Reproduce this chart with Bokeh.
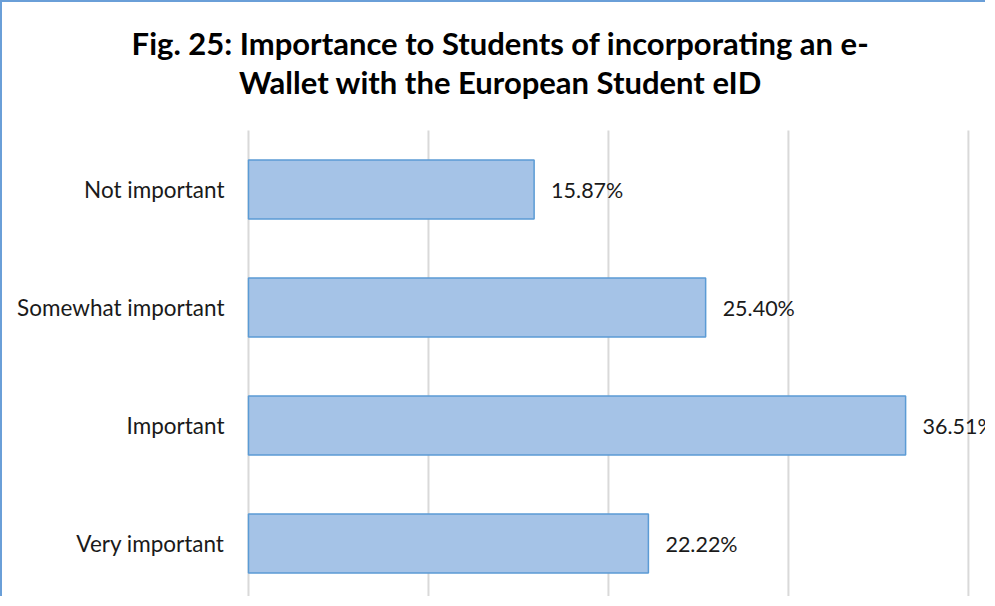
from bokeh.plotting import figure
from bokeh.models import Range1d, ColumnDataSource
from bokeh.core.properties import value
from bokeh.embed import file_html
from bokeh.resources import INLINE

categories = ["Not important", "Somewhat important", "Important", "Very important"]
percentages = [15.87, 25.40, 36.51, 22.22]
grid_ticks = [0, 10, 20, 30, 40]
title_lines = ["Fig. 25: Importance to Students of incorporating an e-",
               "Wallet with the European Student eID"]

n = len(categories)
ypos = [n - i - 0.5 for i in range(n)]
labels = ["%.2f%%" % v for v in percentages]

src = ColumnDataSource(dict(y=ypos, v=percentages, lab=labels, cat=categories, zero=[0] * n))

# plot area: 0..41 along x, 0..4 along y; extra room above/left for title and category labels
x_lo, x_hi = -13.667, 41.06
y_lo, y_hi = 0.034, 5.085
plot_top = float(n)

p = figure(width=985, height=596, output_backend="svg", toolbar_location=None,
           x_range=Range1d(x_lo, x_hi), y_range=Range1d(y_lo, y_hi),
           min_border_left=0, min_border_right=0, min_border_bottom=0, min_border_top=0)
p.styles = {"border-left": "2px solid #6a9fd8", "border-top": "2px solid #6a9fd8"}
p.outline_line_color = None
p.axis.visible = False
p.grid.visible = False

# vertical gridlines
p.segment(x0=grid_ticks, y0=[y_lo] * len(grid_ticks), x1=grid_ticks, y1=[plot_top] * len(grid_ticks),
          line_color="#d9d9d9", line_width=2)

# bars
p.hbar(y="y", right="v", left=0, height=0.5, source=src,
       fill_color="#a5c3e7", line_color="#5b9bd5", line_width=1.5)

# data labels
p.text(x="v", y="y", text="lab", source=src, x_offset=17, text_baseline="middle",
       text_align="left", text_font=value("Lato"), text_font_size="21.5px", text_color="#1a1a1a")

# category labels
p.text(x="zero", y="y", text="cat", source=src, x_offset=-24, text_baseline="middle",
       text_align="right", text_font=value("Lato"), text_font_size="22.5px", text_color="#1a1a1a")

# title (two centred lines)
p.text(x=[14.0, 14.0], y=[4.74, 4.41], text=title_lines, text_align="center",
       text_baseline="alphabetic", text_font=value("Lato"), text_font_size="31px",
       text_font_style="bold", text_color="#000000")

open("out.html", "w").write(file_html(p, INLINE))
